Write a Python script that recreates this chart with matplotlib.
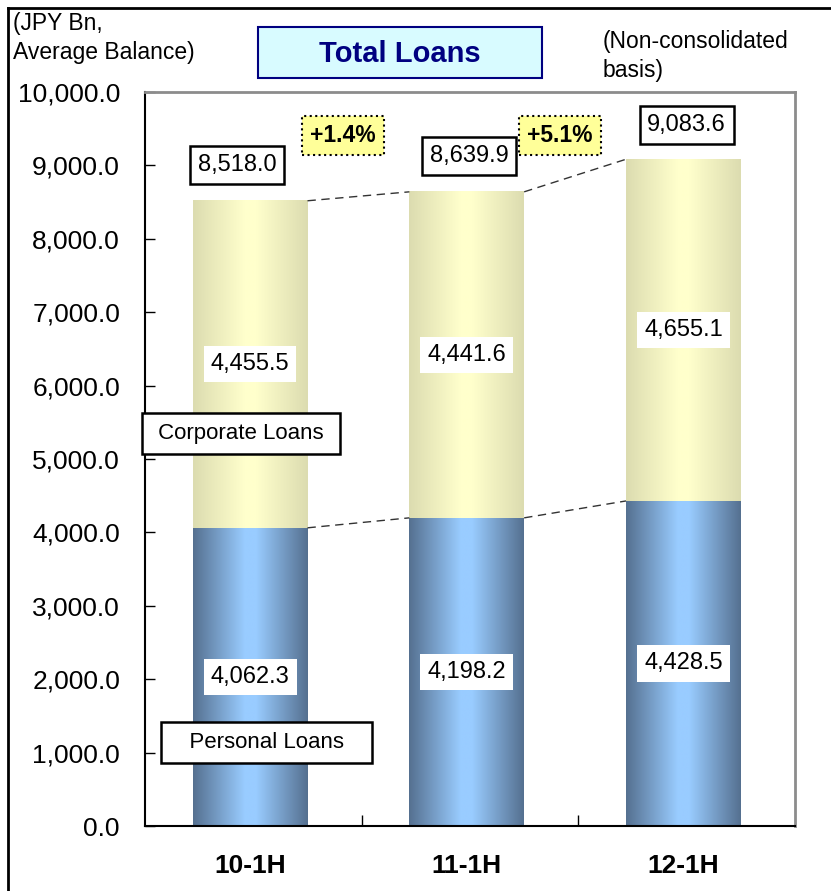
import numpy as np
import matplotlib
matplotlib.use("Agg")
import matplotlib.pyplot as plt
from matplotlib.colors import LinearSegmentedColormap
from matplotlib.lines import Line2D

plt.rcParams['font.family'] = ['Liberation Sans', 'DejaVu Sans']

# data
periods = ['10-1H', '11-1H', '12-1H']
personal = [4062.3, 4198.2, 4428.5]
corporate = [4455.5, 4441.6, 4655.1]
totals = [8518.0, 8639.9, 9083.6]
growth = ['+1.4%', '+5.1%']

blue_cmap = LinearSegmentedColormap.from_list(
    'blue', [(0, '#557090'), (0.45, '#99ccff'), (0.55, '#99ccff'), (1, '#557090')])
yel_cmap = LinearSegmentedColormap.from_list(
    'yel', [(0, '#dcdcb0'), (0.45, '#ffffcc'), (0.55, '#ffffcc'), (1, '#dcdcb0')])
grad = np.linspace(0, 1, 256)[None, :]

fig = plt.figure(figsize=(8.31, 8.91), dpi=100)
ax = fig.add_axes([145 / 831, 65 / 891, 650 / 831, 734 / 891])

x = np.arange(len(periods)) - 0.015
w = 0.53
for i in range(len(periods)):
    ax.imshow(grad, cmap=blue_cmap, aspect='auto', interpolation='bilinear',
              extent=(x[i] - w / 2, x[i] + w / 2, 0, personal[i]), zorder=2)
    ax.imshow(grad, cmap=yel_cmap, aspect='auto', interpolation='bilinear',
              extent=(x[i] - w / 2, x[i] + w / 2, personal[i], totals[i]), zorder=2)
    # segment labels
    ax.text(x[i], personal[i] / 2, f'{personal[i]:,.1f}', ha='center', va='center',
            fontsize=17, zorder=5,
            bbox=dict(boxstyle='square,pad=0.3', fc='white', ec='none'))
    ax.text(x[i], personal[i] + corporate[i] / 2, f'{corporate[i]:,.1f}', ha='center',
            va='center', fontsize=17, zorder=5,
            bbox=dict(boxstyle='square,pad=0.3', fc='white', ec='none'))

# totals
tot_dx = [-0.06, 0.01, 0.015]
tot_dy = [490, 490, 470]
for i in range(len(periods)):
    ax.text(x[i] + tot_dx[i], totals[i] + tot_dy[i], f'{totals[i]:,.1f}', ha='center',
            va='center', fontsize=17, zorder=5,
            bbox=dict(boxstyle='square,pad=0.33', fc='white', ec='black', lw=1.8))

# dashed connectors
for i in range(len(periods) - 1):
    ax.plot([x[i] + w / 2, x[i + 1] - w / 2], [totals[i], totals[i + 1]],
            ls=(0, (6, 4)), color='#333333', lw=1, zorder=3)
    ax.plot([x[i] + w / 2, x[i + 1] - w / 2], [personal[i], personal[i + 1]],
            ls=(0, (6, 4)), color='#333333', lw=1, zorder=3)

# growth rates
for i, g in enumerate(growth):
    ax.text(x[i] + 0.43, 9410, g, ha='center', va='center', fontsize=16.5,
            fontweight='bold', zorder=5,
            bbox=dict(boxstyle='square,pad=0.35', fc='#ffff99', ec='black',
                      ls=':', lw=1.5))

# series labels
ax.text(-0.056, 5354, ' Corporate Loans ', ha='center', va='center', fontsize=16,
        zorder=6,
        bbox=dict(boxstyle='square,pad=0.45', fc='white', ec='black', lw=1.8))
ax.text(0.06, 1131, '   Personal Loans   ', ha='center', va='center', fontsize=16,
        zorder=6,
        bbox=dict(boxstyle='square,pad=0.45', fc='white', ec='black', lw=1.8))

ax.set_xlim(-0.5, 2.5)
ax.set_ylim(0, 10000)
ax.set_yticks(np.arange(0, 10001, 1000))
ax.set_yticklabels([f'{v:,.1f}' for v in np.arange(0, 10001, 1000)], fontsize=19)
ax.tick_params(axis='y', direction='in', length=7, width=1, pad=18)
ax.set_xticks(x)
ax.set_xticklabels(periods, fontsize=19, fontweight='bold')
ax.tick_params(axis='x', which='major', length=0, pad=20)
ax.set_xticks([0.5, 1.5], minor=True)
ax.tick_params(axis='x', which='minor', direction='in', length=8, width=1)
for s in ['left', 'bottom']:
    ax.spines[s].set_linewidth(1.5)
    ax.spines[s].set_color('black')
for s in ['top', 'right']:
    ax.spines[s].set_linewidth(2)
    ax.spines[s].set_color('#8c8c8c')

# header texts
fig.text(13 / 831, 1 - 12 / 891, '(JPY Bn,\nAverage Balance)', ha='left', va='top',
         fontsize=16.5, linespacing=1.35)
fig.text(603 / 831, 1 - 30 / 891, '(Non-consolidated\nbasis)', ha='left', va='top',
         fontsize=16.5, linespacing=1.35)
fig.patches.append(plt.Rectangle((258 / 831, 1 - 78 / 891), 284 / 831, 51 / 891,
                                 transform=fig.transFigure, fc='#d8fbff', ec='#000080',
                                 lw=1.5))
fig.text(400 / 831, 1 - 54 / 891, 'Total Loans', ha='center', va='center',
         fontsize=21, fontweight='bold', color='#000080')

# outer frame
fig.add_artist(Line2D([8 / 831, 1], [1 - 8 / 891, 1 - 8 / 891],
                      transform=fig.transFigure, color='black', lw=2))
fig.add_artist(Line2D([8 / 831, 8 / 831], [0, 1 - 8 / 891],
                      transform=fig.transFigure, color='black', lw=2))

fig.savefig('out.png', dpi=100)
